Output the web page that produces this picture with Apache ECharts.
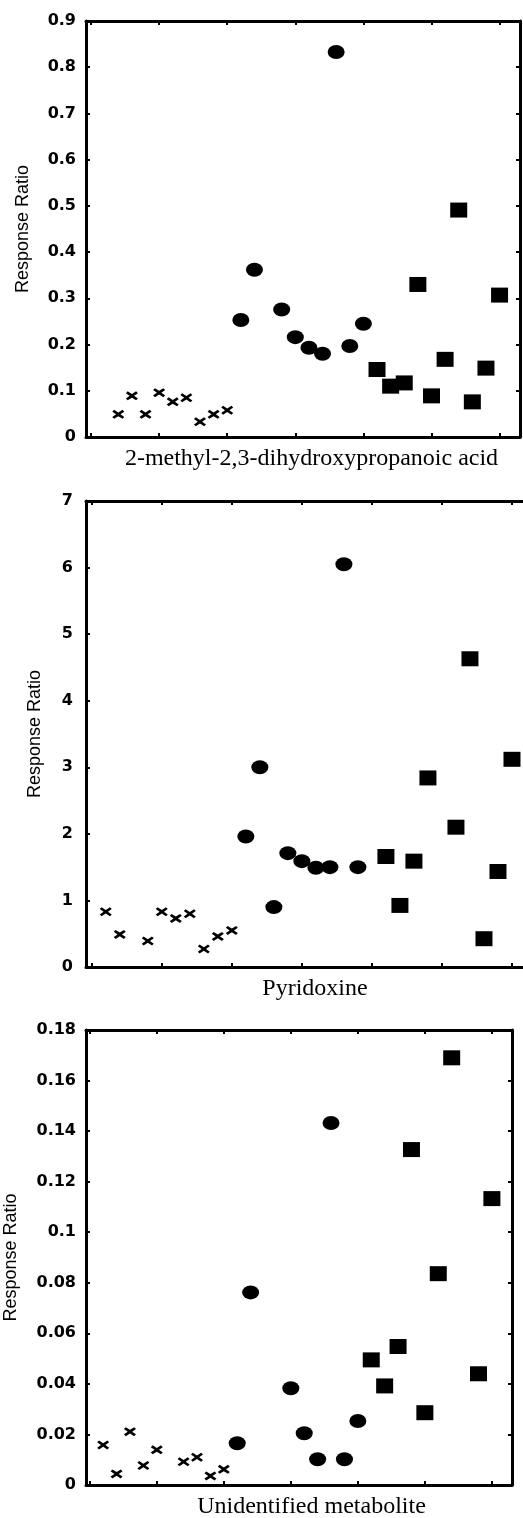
<!DOCTYPE html>
<html>
<head>
<meta charset="utf-8">
<script src="https://cdn.jsdelivr.net/npm/echarts@6/dist/echarts.min.js"></script>
<style>
  html, body { margin: 0; padding: 0; background: #fff; }
  #chart { width: 523px; height: 1518px; }
</style>
</head>
<body>
<div id="chart"></div>
<script>
// x tick positions (sample order), same for all panels
var xTicks = [0, 5, 10, 15, 20, 25, 30];

// panel 1: 2-methyl-2,3-dihydroxypropanoic acid
var p1CrossX = [2, 3, 4, 5, 6, 7, 8, 9, 10];
var p1CrossY = [0.049, 0.089, 0.049, 0.096, 0.076, 0.085, 0.033, 0.049, 0.058];
var p1CircleX = [11, 12, 14, 15, 16, 17, 18, 19, 20];
var p1CircleY = [0.253, 0.362, 0.276, 0.216, 0.193, 0.180, 0.833, 0.197, 0.245];
var p1SquareX = [21, 22, 23, 24, 25, 26, 27, 28, 29, 30];
var p1SquareY = [0.146, 0.110, 0.117, 0.330, 0.089, 0.168, 0.491, 0.076, 0.149, 0.307];

// panel 2: Pyridoxine
var p2CrossX = [1, 2, 4, 5, 6, 7, 8, 9, 10];
var p2CrossY = [0.83, 0.49, 0.39, 0.83, 0.73, 0.80, 0.27, 0.46, 0.55];
var p2CircleX = [11, 12, 13, 14, 15, 16, 17, 18, 19];
var p2CircleY = [1.96, 3.0, 0.9, 1.71, 1.59, 1.49, 1.5, 6.05, 1.5];
var p2SquareX = [21, 22, 23, 24, 26, 27, 28, 29, 30];
var p2SquareY = [1.66, 0.925, 1.59, 2.84, 2.10, 4.63, 0.425, 1.435, 3.12];

// panel 3: Unidentified metabolite
var p3CrossX = [1, 2, 3, 4, 5, 7, 8, 9, 10];
var p3CrossY = [0.0158, 0.0044, 0.0211, 0.0077, 0.0139, 0.0092, 0.011, 0.0036, 0.0062];
var p3CircleX = [11, 12, 15, 16, 17, 18, 19, 20];
var p3CircleY = [0.0165, 0.0762, 0.0383, 0.0205, 0.0102, 0.1432, 0.0102, 0.0253];
var p3SquareX = [21, 22, 23, 24, 25, 26, 27, 29, 30];
var p3SquareY = [0.0495, 0.0392, 0.0548, 0.1327, 0.0286, 0.0836, 0.169, 0.044, 0.1133];

var panelNames = ['2-methyl-2,3-dihydroxypropanoic acid', 'Pyridoxine', 'Unidentified metabolite'];
var yMax = [0.9, 7, 0.18];
var yStep = [0.1, 1, 0.02];

var crossPath = 'path://M0,1.8L1.8,0L6,2.7L10.2,0L12,1.8L8.2,4.5L12,7.2L10.2,9L6,6.3L1.8,9L0,7.2L3.8,4.5Z';

function zip(xs, ys) {
	var out = [];
	for (var i = 0; i < xs.length; i++) {
		out.push([xs[i], ys[i]]);
	}
	return out;
}

// the middle panel runs past the right edge of the picture
var grids = [
	{ left: 86, top: 21, width: 434, height: 416, outerBoundsMode: 'none' },
	{ left: 86, top: 501, width: 447, height: 466, outerBoundsMode: 'none' },
	{ left: 86, top: 1030, width: 426, height: 455, outerBoundsMode: 'none' }
];
var xMin = [-0.37, -0.41, -0.28];
var nameShift = [17, 11, 25];
var yNameGap = [54, 42, 66];
var yLabelMargin = [10, 13, 10];

var lineStyle = { color: '#000', width: 3 };
var tickStyle = { color: '#000', width: 2 };

var xAxes = [], yAxes = [], series = [];
for (var g = 0; g < 3; g++) {
	// bottom axis with title
	xAxes.push({
		type: 'value', gridIndex: g, position: 'bottom', min: xMin[g], max: 31.5,
		axisLine: { show: true, onZero: false, lineStyle: lineStyle },
		axisTick: { show: true, inside: true, length: 4, lineStyle: tickStyle, customValues: xTicks },
		axisLabel: { show: false },
		splitLine: { show: false },
		name: panelNames[g], nameLocation: 'middle', nameGap: 10,
		nameTextStyle: { fontFamily: 'Liberation Serif', fontSize: 24, color: '#000', padding: [0, 0, 0, nameShift[g]] }
	});
	// top frame
	xAxes.push({
		type: 'value', gridIndex: g, position: 'top', min: xMin[g], max: 31.5,
		axisLine: { show: true, onZero: false, lineStyle: lineStyle },
		axisTick: { show: true, inside: true, length: 4, lineStyle: tickStyle, customValues: xTicks },
		axisLabel: { show: false },
		splitLine: { show: false }
	});
	yAxes.push({
		type: 'value', gridIndex: g, position: 'left', min: 0, max: yMax[g], interval: yStep[g],
		axisLine: { show: true, onZero: false, lineStyle: lineStyle },
		axisTick: { show: true, inside: true, length: 4, lineStyle: tickStyle },
		axisLabel: { margin: yLabelMargin[g], fontFamily: 'DejaVu Sans', fontWeight: 'bold', fontSize: 16, color: '#000' },
		splitLine: { show: false },
		name: 'Response Ratio', nameLocation: 'middle', nameGap: yNameGap[g],
		nameTextStyle: { fontFamily: 'Liberation Sans', fontSize: 18, color: '#000' }
	});
	// right frame
	yAxes.push({
		type: 'value', gridIndex: g, position: 'right', min: 0, max: yMax[g], interval: yStep[g],
		axisLine: { show: true, onZero: false, lineStyle: lineStyle },
		axisTick: { show: true, inside: true, length: 4, lineStyle: tickStyle },
		axisLabel: { show: false },
		splitLine: { show: false }
	});
}

var groups = [
	[zip(p1CrossX, p1CrossY), zip(p1CircleX, p1CircleY), zip(p1SquareX, p1SquareY)],
	[zip(p2CrossX, p2CrossY), zip(p2CircleX, p2CircleY), zip(p2SquareX, p2SquareY)],
	[zip(p3CrossX, p3CrossY), zip(p3CircleX, p3CircleY), zip(p3SquareX, p3SquareY)]
];
var symbols = [crossPath, 'circle', 'rect'];
var sizes = [[12, 9], [17, 14], [17, 15]];

for (var p = 0; p < 3; p++) {
	for (var s = 0; s < 3; s++) {
		series.push({
			type: 'scatter',
			xAxisIndex: p * 2,
			yAxisIndex: p * 2,
			data: groups[p][s],
			symbol: symbols[s],
			symbolSize: sizes[s],
			itemStyle: { color: '#000', opacity: 1 },
			silent: true
		});
	}
}

var chart = echarts.init(document.getElementById('chart'), null, { renderer: 'canvas' });
chart.setOption({
	backgroundColor: '#fff',
	animation: false,
	grid: grids,
	xAxis: xAxes,
	yAxis: yAxes,
	series: series
});
</script>
</body>
</html>
